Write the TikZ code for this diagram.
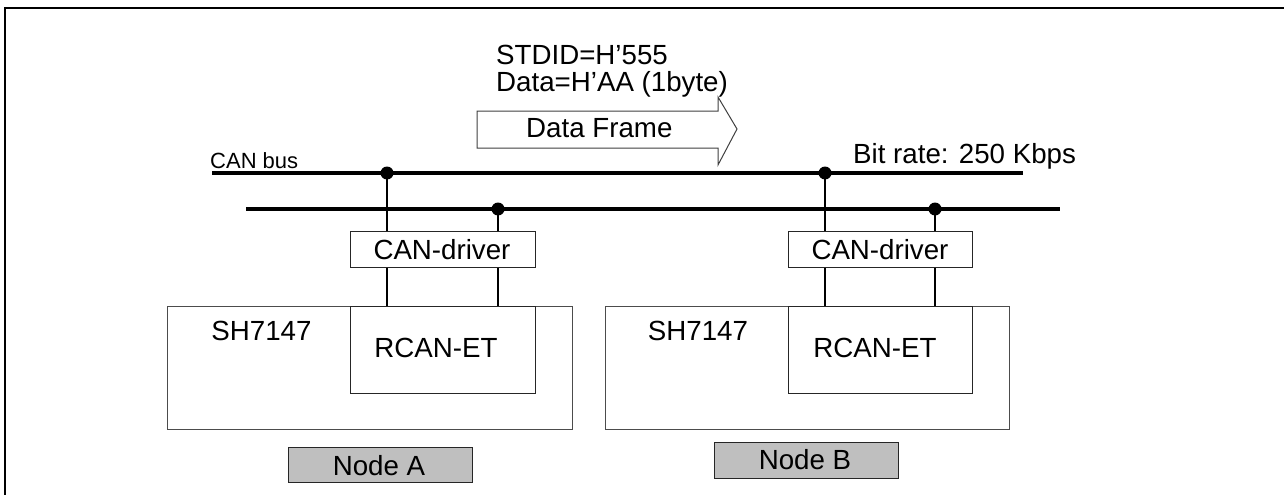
\documentclass[tikz,border=0pt]{standalone}
\usepackage{fontspec}
\setmainfont{Liberation Sans}
\begin{document}
\begin{tikzpicture}[x=1pt,y=-1pt,
  txt/.style={inner sep=0pt,font=\fontsize{27.7}{33}\selectfont},
  smalltxt/.style={inner sep=0pt,font=\fontsize{22}{26}\selectfont},
  box/.style={draw=black!85,line width=1.3pt,fill=white,inner sep=0pt,anchor=north west},
  chip/.style={draw=black!70,line width=1.3pt,inner sep=0pt,anchor=north west},
  label/.style={draw=black!85,line width=1.3pt,fill=black!25,inner sep=0pt,anchor=north west},
  bus/.style={line width=4pt},
  wire/.style={line width=1.5pt},
  dot/.style={circle,fill=black,inner sep=0pt,minimum size=13pt},
  frame/.style={line width=2pt}
]
\useasboundingbox (0,0) rectangle (1286,495);
% frame (top and left edges)
\coordinate (f1) at (4.5,495);
\coordinate (f2) at (4.5,8.5);
\coordinate (f3) at (1284,8.5);
\draw[frame] (f1) -- (f2) -- (f3);

% bus lines
\coordinate (b1s) at (212,173);
\coordinate (b1e) at (1023,173);
\coordinate (b2s) at (246,209);
\coordinate (b2e) at (1060,209);
\draw[bus] (b1s) -- (b1e);
\draw[bus] (b2s) -- (b2e);

% node A boxes
\node[chip,minimum width=405pt,minimum height=123pt] (shA) at (167,306) {};
\node[box,minimum width=185pt,minimum height=87pt] (rcA) at (350,306) {};
\node[box,minimum width=185pt,minimum height=36pt] (drA) at (350,231) {};
\node[label,minimum width=184pt,minimum height=35pt] (lbA) at (288,447) {};
% node B boxes
\node[chip,minimum width=404pt,minimum height=123pt] (shB) at (605,306) {};
\node[box,minimum width=184pt,minimum height=87pt] (rcB) at (788,306) {};
\node[box,minimum width=184pt,minimum height=36pt] (drB) at (788,231) {};
\node[label,minimum width=184pt,minimum height=36pt] (lbB) at (714,442) {};

% junction points
\coordinate (jA1) at (387,173);
\coordinate (jA2) at (498,209);
\coordinate (jB1) at (825,173);
\coordinate (jB2) at (935,209);

% wires
\draw[wire] (jA1) -- (jA1 |- drA.north);
\draw[wire] (jA2) -- (jA2 |- drA.north);
\draw[wire] (jA1 |- drA.south) -- (jA1 |- rcA.north);
\draw[wire] (jA2 |- drA.south) -- (jA2 |- rcA.north);
\draw[wire] (jB1) -- (jB1 |- drB.north);
\draw[wire] (jB2) -- (jB2 |- drB.north);
\draw[wire] (jB1 |- drB.south) -- (jB1 |- rcB.north);
\draw[wire] (jB2 |- drB.south) -- (jB2 |- rcB.north);

\node[dot] (dA1) at (jA1) {};
\node[dot] (dA2) at (jA2) {};
\node[dot] (dB1) at (jB1) {};
\node[dot] (dB2) at (jB2) {};

% texts in boxes
\node[txt,anchor=base] (tdrA) at (442,259) {CAN-driver};
\node[txt,anchor=base] (tdrB) at (880,259) {CAN-driver};
\node[txt,anchor=base] (tshA) at (261.5,340) {SH7147};
\node[txt,anchor=base] (tshB) at (698,340) {SH7147};
\node[txt,anchor=base] (trcA) at (436,357) {RCAN-ET};
\node[txt,anchor=base] (trcB) at (875,357) {RCAN-ET};
\node[txt,anchor=base] (tlbA) at (379,475) {Node A};
\node[txt,anchor=base] (tlbB) at (805,469) {Node B};

% data frame arrow
\draw[line width=1pt,draw=black!75,fill=white]
  (477,111) -- (718,111) -- (718,97) -- (737,129) -- (718,165) -- (718,148) -- (477,148) -- cycle;
\node[txt,anchor=base west] (tdf) at (526,137) {Data Frame};

% annotations
\node[txt,anchor=base west] (tid) at (496,65) {STDID=H’555};
\node[txt,anchor=base west] (tdat) at (496,92) {Data=H’AA (1byte)};
\node[smalltxt,anchor=base west] (tbus) at (210,168) {CAN bus};
\node[txt,anchor=base west] (trate) at (853,163) {Bit rate: 250 Kbps};
\end{tikzpicture}
\end{document}
